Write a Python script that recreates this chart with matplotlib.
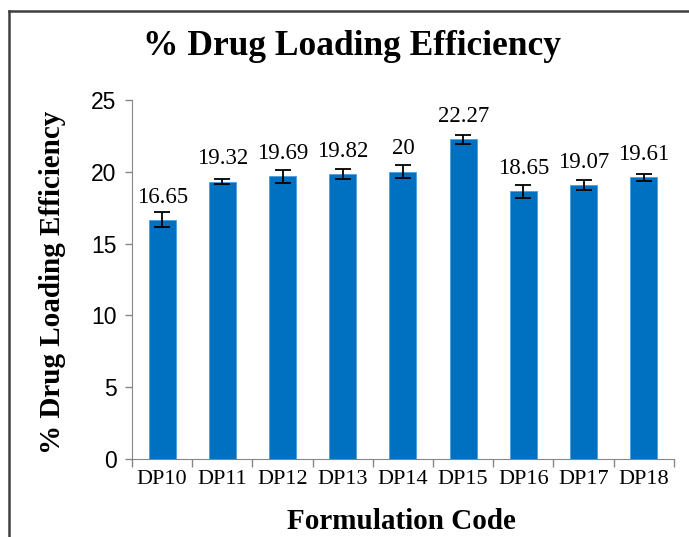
import matplotlib
matplotlib.use('Agg')
import matplotlib.pyplot as plt
from matplotlib.lines import Line2D

codes = ['DP10', 'DP11', 'DP12', 'DP13', 'DP14', 'DP15', 'DP16', 'DP17', 'DP18']
loading = [16.65, 19.32, 19.69, 19.82, 20, 22.27, 18.65, 19.07, 19.61]
errors = [0.52, 0.2, 0.45, 0.34, 0.46, 0.32, 0.46, 0.34, 0.22]
value_labels = ['16.65', '19.32', '19.69', '19.82', '20', '22.27', '18.65', '19.07', '19.61']

serif = 'Liberation Serif'
grey = '#868686'

fig = plt.figure(figsize=(6.89, 5.37), dpi=100)
ax = fig.add_axes([0.1916, 0.1453, 0.978 - 0.1916, 0.8138 - 0.1453])

x = list(range(len(codes)))
ax.bar(x, loading, width=0.45, color='#0070C0', edgecolor='#4a9fe0', linewidth=0.6,
       yerr=errors, error_kw=dict(ecolor='black', elinewidth=1.3, capsize=6, capthick=1.3))

for i, v in enumerate(loading):
    ax.annotate(value_labels[i], (x[i], v), xytext=(0, 12.5), textcoords='offset points',
                ha='center', va='baseline', fontsize=16.5, family=serif)

ax.set_xlim(-0.5, len(codes) - 0.5)
ax.set_ylim(0, 25)
ax.set_yticks([0, 5, 10, 15, 20, 25])

# x ticks at category boundaries, labels in the middle
ax.set_xticks([i - 0.5 for i in range(len(codes) + 1)])
ax.set_xticklabels([])
ax.set_xticks(x, minor=True)
ax.set_xticklabels(codes, minor=True, fontsize=16, family=serif)
ax.tick_params(axis='x', which='major', length=6, color=grey, width=1)
ax.tick_params(axis='x', which='minor', length=0, pad=8)
ax.tick_params(axis='y', length=5, color=grey, width=1, labelsize=16.5, pad=6)
for lab in ax.get_yticklabels():
    lab.set_family('Liberation Sans')

for s in ['top', 'right']:
    ax.spines[s].set_visible(False)
ax.spines['left'].set_color(grey)
ax.spines['bottom'].set_color(grey)

fig.text(0.511, 0.914, '% Drug Loading Efficiency', ha='center', va='center',
         fontsize=25.5, fontweight='bold', family=serif)
fig.text(0.0755, 0.475, '% Drug Loading Efficiency', ha='center', va='center', rotation=90,
         fontsize=21, fontweight='bold', family=serif)
fig.text(0.583, 0.028, 'Formulation Code', ha='center', va='center',
         fontsize=21, fontweight='bold', family=serif)

# outer frame (top and left edges only visible)
fx = 9 / 689
fy = 1 - 11 / 537
fig.add_artist(Line2D([fx, 1], [fy, fy], transform=fig.transFigure, color='#404040', linewidth=1.8))
fig.add_artist(Line2D([fx, fx], [0, fy], transform=fig.transFigure, color='#404040', linewidth=1.8))

fig.savefig('out.png', dpi=100)
